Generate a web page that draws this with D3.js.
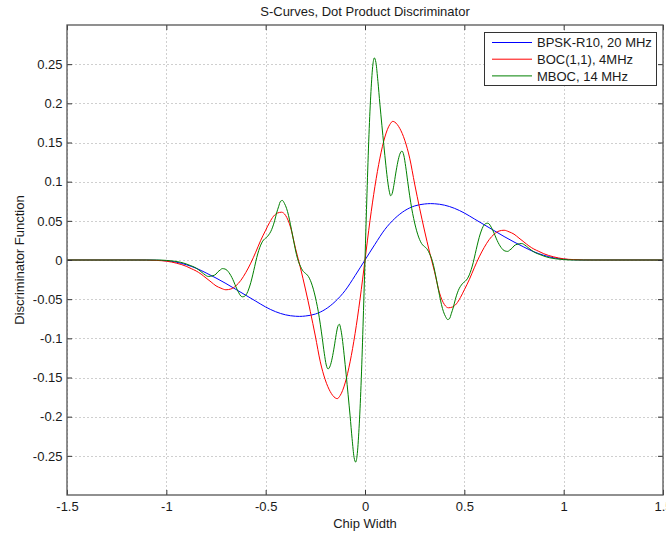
<!DOCTYPE html>
<html>
<head>
<meta charset="utf-8">
<script src="https://cdn.jsdelivr.net/npm/d3@7"></script>
<style>
  html, body { margin: 0; padding: 0; background: #fff; }
  svg text { font-family: "Liberation Sans", Arial, Helvetica, sans-serif; font-size: 13px; fill: #1a1a1a; }
</style>
</head>
<body>
<svg id="chart" width="666" height="533"></svg>
<script>
// Discriminator output versus code offset (chips), as [offset, value] pairs.
const bpskR10 = [
  [-1.5,0],[-1.2,0],[-1.1,0],[-1.05,-0.0003],[-1.0,-0.001],[-0.95,-0.0028],[-0.9,-0.006],
  [-0.85,-0.0105],[-0.8,-0.0165],[-0.75,-0.023],[-0.7,-0.030],[-0.65,-0.0375],[-0.6,-0.045],
  [-0.55,-0.0525],[-0.5,-0.060],[-0.45,-0.066],[-0.4,-0.070],[-0.35,-0.0718],[-0.33,-0.072],
  [-0.3,-0.0715],[-0.25,-0.069],[-0.2,-0.063],[-0.15,-0.053],[-0.1,-0.039],[-0.05,-0.020],
  [0,0],
  [0.05,0.020],[0.1,0.039],[0.15,0.053],[0.2,0.063],[0.25,0.069],[0.3,0.0715],[0.33,0.072],
  [0.35,0.0718],[0.4,0.070],[0.45,0.066],[0.5,0.060],[0.55,0.0525],[0.6,0.045],[0.65,0.0375],
  [0.7,0.030],[0.75,0.023],[0.8,0.0165],[0.85,0.0105],[0.9,0.006],[0.95,0.0028],[1.0,0.001],
  [1.05,0.0003],[1.1,0],[1.2,0],[1.5,0]
];

const boc11 = [
  [-1.5,0],[-1.15,0],[-1.1,-0.0001],[-1.05,-0.0005],[-1.0,-0.0015],[-0.95,-0.004],[-0.9,-0.008],
  [-0.875,-0.011],[-0.85,-0.014],[-0.825,-0.018],[-0.8,-0.023],[-0.775,-0.028],[-0.75,-0.033],
  [-0.725,-0.036],[-0.7,-0.038],[-0.675,-0.037],[-0.65,-0.033],[-0.625,-0.026],[-0.6,-0.016],
  [-0.575,-0.004],[-0.55,0.010],[-0.525,0.025],[-0.5,0.038],[-0.48,0.048],[-0.46,0.056],
  [-0.44,0.060],[-0.42,0.061],[-0.4,0.057],[-0.375,0.042],[-0.35,0.015],[-0.325,-0.010],
  [-0.3,-0.037],[-0.275,-0.066],[-0.25,-0.097],[-0.225,-0.130],[-0.2,-0.153],[-0.175,-0.168],
  [-0.15,-0.176],[-0.14,-0.177],[-0.125,-0.173],[-0.1,-0.157],[-0.075,-0.130],[-0.05,-0.094],
  [-0.025,-0.050],
  [0,0],
  [0.025,0.050],[0.05,0.094],[0.075,0.130],[0.1,0.157],[0.125,0.173],[0.14,0.177],[0.15,0.176],
  [0.175,0.168],[0.2,0.153],[0.225,0.130],[0.25,0.097],[0.275,0.066],[0.3,0.037],[0.325,0.010],
  [0.35,-0.015],[0.375,-0.042],[0.4,-0.057],[0.42,-0.061],[0.44,-0.060],[0.46,-0.056],
  [0.48,-0.048],[0.5,-0.038],[0.525,-0.025],[0.55,-0.010],[0.575,0.004],[0.6,0.016],
  [0.625,0.026],[0.65,0.033],[0.675,0.037],[0.7,0.038],[0.725,0.036],[0.75,0.033],
  [0.775,0.028],[0.8,0.023],[0.825,0.018],[0.85,0.014],[0.875,0.011],[0.9,0.008],[0.95,0.004],
  [1.0,0.0015],[1.05,0.0005],[1.1,0.0001],[1.15,0],[1.5,0]
];

const mboc = [
  [-1.5,0],[-1.05,0],[-1.0,-0.0005],[-0.96,-0.0015],[-0.93,-0.0028],[-0.9,-0.005],[-0.88,-0.007],
  [-0.86,-0.009],[-0.84,-0.012],[-0.82,-0.016],[-0.805,-0.019],[-0.789,-0.021],[-0.765,-0.020],
  [-0.75,-0.018],[-0.74,-0.015],[-0.73,-0.013],[-0.718,-0.011],[-0.705,-0.0115],[-0.695,-0.013],
  [-0.685,-0.016],[-0.675,-0.020],[-0.665,-0.025],[-0.655,-0.031],[-0.645,-0.037],[-0.635,-0.042],
  [-0.625,-0.046],[-0.616,-0.047],[-0.605,-0.046],[-0.595,-0.043],[-0.585,-0.037],[-0.575,-0.029],
  [-0.565,-0.019],[-0.555,-0.008],[-0.545,0.003],[-0.535,0.012],[-0.525,0.019],[-0.515,0.024],
  [-0.505,0.027],[-0.495,0.029],[-0.485,0.032],[-0.475,0.036],[-0.465,0.042],[-0.455,0.050],
  [-0.445,0.060],[-0.435,0.068],[-0.425,0.075],[-0.416,0.076],[-0.405,0.072],[-0.395,0.066],
  [-0.385,0.057],[-0.375,0.045],[-0.365,0.032],[-0.355,0.019],[-0.345,0.007],[-0.335,-0.002],
  [-0.325,-0.008],[-0.315,-0.013],[-0.305,-0.016],[-0.295,-0.018],[-0.285,-0.021],[-0.275,-0.026],
  [-0.265,-0.033],[-0.255,-0.042],[-0.245,-0.053],[-0.235,-0.066],[-0.225,-0.082],[-0.215,-0.100],
  [-0.205,-0.119],[-0.195,-0.134],[-0.186,-0.139],[-0.175,-0.135],[-0.165,-0.125],[-0.155,-0.111],
  [-0.145,-0.095],[-0.137,-0.085],[-0.129,-0.082],[-0.122,-0.088],[-0.115,-0.099],[-0.105,-0.121],
  [-0.095,-0.146],[-0.085,-0.172],[-0.075,-0.199],[-0.065,-0.228],[-0.055,-0.252],[-0.047,-0.258],
  [-0.04,-0.250],[-0.03,-0.215],[-0.02,-0.160],[-0.01,-0.085],
  [0,0],
  [0.01,0.085],[0.02,0.160],[0.03,0.215],[0.04,0.250],[0.047,0.258],[0.055,0.252],[0.065,0.228],
  [0.075,0.199],[0.085,0.172],[0.095,0.146],[0.105,0.121],[0.115,0.099],[0.122,0.088],
  [0.129,0.082],[0.137,0.085],[0.145,0.095],[0.155,0.111],[0.165,0.125],[0.175,0.135],
  [0.186,0.139],[0.195,0.134],[0.205,0.119],[0.215,0.100],[0.225,0.082],[0.235,0.066],
  [0.245,0.053],[0.255,0.042],[0.265,0.033],[0.275,0.026],[0.285,0.021],[0.295,0.018],
  [0.305,0.016],[0.315,0.013],[0.325,0.008],[0.335,0.002],[0.345,-0.007],[0.355,-0.019],
  [0.365,-0.032],[0.375,-0.045],[0.385,-0.057],[0.395,-0.066],[0.405,-0.072],[0.416,-0.076],
  [0.425,-0.075],[0.435,-0.068],[0.445,-0.060],[0.455,-0.050],[0.465,-0.042],[0.475,-0.036],
  [0.485,-0.032],[0.495,-0.029],[0.505,-0.027],[0.515,-0.024],[0.525,-0.019],[0.535,-0.012],
  [0.545,-0.003],[0.555,0.008],[0.565,0.019],[0.575,0.029],[0.585,0.037],[0.595,0.043],
  [0.605,0.046],[0.616,0.047],[0.625,0.046],[0.635,0.042],[0.645,0.037],[0.655,0.031],
  [0.665,0.025],[0.675,0.020],[0.685,0.016],[0.695,0.013],[0.705,0.0115],[0.718,0.011],
  [0.73,0.013],[0.74,0.015],[0.75,0.018],[0.765,0.020],[0.789,0.021],[0.805,0.019],[0.82,0.016],
  [0.84,0.012],[0.86,0.009],[0.88,0.007],[0.9,0.005],[0.93,0.0028],[0.96,0.0015],[1.0,0.0005],
  [1.05,0],[1.5,0]
];

const seriesNames = ["BPSK-R10, 20 MHz", "BOC(1,1), 4MHz", "MBOC, 14 MHz"];
const seriesColors = ["#0000ff", "#ff0000", "#008000"];

const xTicks = [-1.5, -1, -0.5, 0, 0.5, 1, 1.5];
const xTickLabels = ["-1.5", "-1", "-0.5", "0", "0.5", "1", "1.5"];
const yTicks = [-0.25, -0.2, -0.15, -0.1, -0.05, 0, 0.05, 0.1, 0.15, 0.2, 0.25];
const yTickLabels = ["-0.25", "-0.2", "-0.15", "-0.1", "-0.05", "0", "0.05", "0.1", "0.15", "0.2", "0.25"];

const titleText = "S-Curves, Dot Product Discriminator";
const xLabelText = "Chip Width";
const yLabelText = "Discriminator Function";

// Plot box
const plotLeft = 67, plotRight = 663, plotTop = 25, plotBottom = 495;
const svg = d3.select("#chart");

const x = d3.scaleLinear().domain([-1.5, 1.5]).range([plotLeft, plotRight]);
const y = d3.scaleLinear().domain([-0.3, 0.3]).range([plotBottom, plotTop]);

// Dotted grid
const grid = svg.append("g").attr("stroke", "#cfcfcf").attr("stroke-width", 1)
  .attr("stroke-dasharray", "2,2").attr("fill", "none");
xTicks.forEach(t => {
  const px = Math.round(x(t)) + 0.5;
  grid.append("line").attr("x1", px).attr("x2", px).attr("y1", plotTop).attr("y2", plotBottom);
});
yTicks.forEach(t => {
  const py = Math.round(y(t)) + 0.5;
  grid.append("line").attr("x1", plotLeft).attr("x2", plotRight).attr("y1", py).attr("y2", py);
});

// Curves
const line = d3.line()
  .x(d => x(d[0]))
  .y(d => y(d[1]))
  .curve(d3.curveMonotoneX);

const plot = svg.append("g");
[bpskR10, boc11, mboc].forEach((s, i) => {
  plot.append("path").datum(s)
    .attr("d", line)
    .attr("fill", "none")
    .attr("stroke", seriesColors[i])
    .attr("stroke-width", 1);
});

// Axes (bottom/left with labels, top/right ticks only), ticks pointing inward
const tickLen = 5;
const xAxisBottom = d3.axisBottom(x).tickValues(xTicks).tickSizeInner(-tickLen).tickSizeOuter(0)
  .tickPadding(7).tickFormat((d, i) => xTickLabels[i]);
const xAxisTop = d3.axisTop(x).tickValues(xTicks).tickSizeInner(-tickLen).tickSizeOuter(0)
  .tickFormat("");
const yAxisLeft = d3.axisLeft(y).tickValues(yTicks).tickSizeInner(-tickLen).tickSizeOuter(0)
  .tickPadding(4.5).tickFormat((d, i) => yTickLabels[i]);
const yAxisRight = d3.axisRight(y).tickValues(yTicks).tickSizeInner(-tickLen).tickSizeOuter(0)
  .tickFormat("");

function styleAxis(g) {
  g.select(".domain").remove();
  g.selectAll(".tick line").attr("stroke", "#333").attr("stroke-width", 1);
  g.selectAll(".tick text").attr("fill", "#1a1a1a")
    .style("font-family", '"Liberation Sans", Arial, Helvetica, sans-serif')
    .style("font-size", "13px");
}

svg.append("g").attr("transform", `translate(0,${plotBottom})`).call(xAxisBottom).call(styleAxis);
svg.append("g").attr("transform", `translate(0,${plotTop})`).call(xAxisTop).call(styleAxis);
svg.append("g").attr("transform", `translate(${plotLeft},0)`).call(yAxisLeft).call(styleAxis);
svg.append("g").attr("transform", `translate(${plotRight},0)`).call(yAxisRight).call(styleAxis);

// Frame
svg.append("rect")
  .attr("x", plotLeft).attr("y", plotTop)
  .attr("width", plotRight - plotLeft).attr("height", plotBottom - plotTop)
  .attr("fill", "none").attr("stroke", "#555").attr("stroke-width", 1.3);

// Titles
svg.append("text").attr("x", (plotLeft + plotRight) / 2).attr("y", 16)
  .attr("text-anchor", "middle").text(titleText);
svg.append("text").attr("x", (plotLeft + plotRight) / 2).attr("y", 528)
  .attr("text-anchor", "middle").text(xLabelText);
svg.append("text").attr("transform", `translate(24,${(plotTop + plotBottom) / 2}) rotate(-90)`)
  .attr("text-anchor", "middle").text(yLabelText);

// Legend
const lg = svg.append("g");
lg.append("rect").attr("x", 484.5).attr("y", 32.5).attr("width", 172).attr("height", 53)
  .attr("fill", "#fff").attr("stroke", "#333").attr("stroke-width", 1);
seriesNames.forEach((name, i) => {
  const ly = 42.5 + i * 16.7;
  lg.append("line").attr("x1", 492).attr("x2", 532).attr("y1", ly).attr("y2", ly)
    .attr("stroke", seriesColors[i]).attr("stroke-width", 1);
  lg.append("text").attr("x", 537).attr("y", ly + 4.6).text(name);
});
</script>
</body>
</html>
